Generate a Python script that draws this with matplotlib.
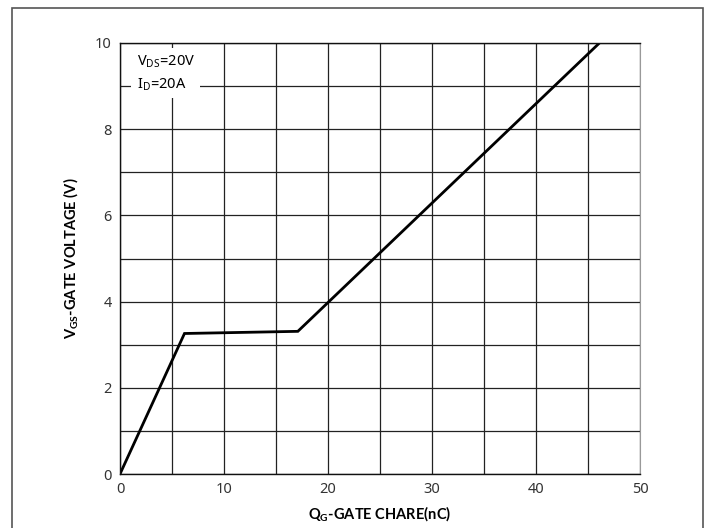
import numpy as np
import matplotlib.pyplot as plt
from matplotlib.patches import Rectangle

# gate charge curve
qg = [0, 6.2, 17.1, 46.1]
vgs = [0, 3.26, 3.31, 10.0]

x_ticks = [0, 10, 20, 30, 40, 50]
y_ticks = [0, 2, 4, 6, 8, 10]

plt.rcParams['font.family'] = ['Noto Sans', 'DejaVu Sans']
plt.rcParams['mathtext.fontset'] = 'custom'
plt.rcParams['mathtext.rm'] = 'Noto Sans'
plt.rcParams['mathtext.bf'] = 'Lato:bold'

fig = plt.figure(figsize=(7.11, 5.28), dpi=100)
ax = fig.add_axes([120 / 711, 1 - 474 / 528, 520 / 711, 431 / 528])

# outer frame round the whole figure
fig.patches.append(Rectangle((12 / 711, -0.05), 691 / 711, 1.05 - 8 / 528,
                             transform=fig.transFigure, fill=False,
                             edgecolor='#555555', linewidth=1.2))

ax.set_xlim(0, 50)
ax.set_ylim(0, 10)
ax.set_xticks(x_ticks)
ax.set_yticks(y_ticks)
ax.set_xticks(np.arange(0, 51, 5), minor=True)
ax.set_yticks(np.arange(0, 11, 1), minor=True)
ax.grid(which='both', color='#222222', linewidth=0.9)
ax.tick_params(which='both', length=0, labelsize=10.5, colors='#333333', pad=6)

for side in ['left', 'bottom', 'top']:
    ax.spines[side].set_color('#111111')
    ax.spines[side].set_linewidth(1.0)
ax.spines['right'].set_color('#999999')

ax.plot(qg, vgs, color='black', linewidth=2.0, solid_joinstyle='miter')

ax.text(1.6, 9.75, 'V$_{\\mathrm{DS}}$=20V\nI$_{\\mathrm{D}}$=20A', fontsize=10.5,
        va='top', ha='left', linespacing=1.45,
        bbox=dict(facecolor='white', edgecolor='none', pad=4))

ax.set_xlabel('Q$_{\\mathbf{G}}$-GATE CHARE(nC)', fontsize=10.5, fontweight='bold',
              family='Lato', labelpad=5)
ax.set_ylabel('V$_{\\mathbf{GS}}$-GATE VOLTAGE (V)', fontsize=10.5, fontweight='bold',
              family='Lato', labelpad=10)

fig.savefig('out.png', dpi=100)
